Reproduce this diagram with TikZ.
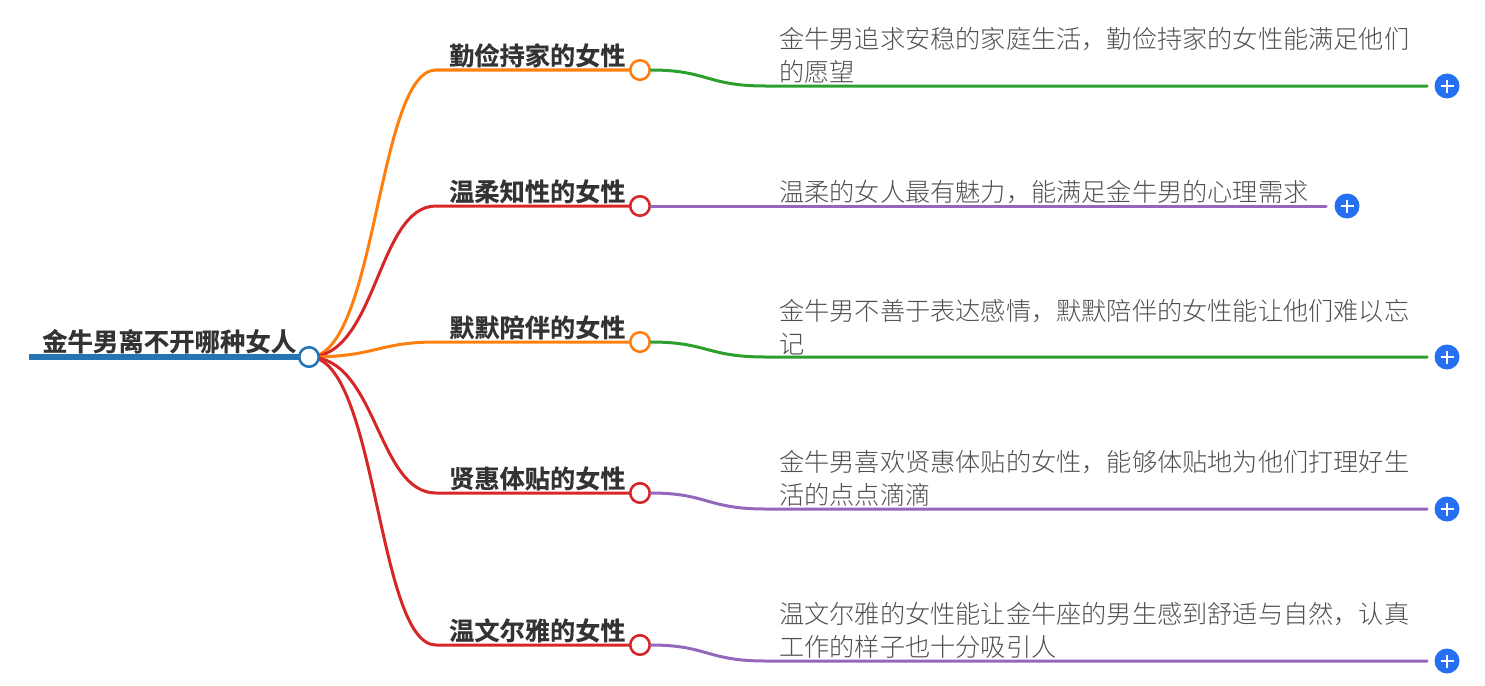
\documentclass[tikz,border=0pt]{standalone}
\usepackage{fontspec}
\setmainfont{Noto Sans CJK SC}[UprightFont=* Light,BoldFont=* Bold,BoldFeatures={FakeBold=0.4}]
\definecolor{cblue}{HTML}{2574B4}
\definecolor{corange}{HTML}{FF7F0E}
\definecolor{cred}{HTML}{D62728}
\definecolor{cgreen}{HTML}{2CA02C}
\definecolor{cpurple}{HTML}{9467BD}
\definecolor{cplus}{HTML}{2470F0}
\definecolor{ctext}{HTML}{333333}
\definecolor{cdetail}{HTML}{505050}
\tikzset{
 x=1pt,y=-1pt,
 rootlabel/.style={anchor=base west,inner sep=0pt,font=\fontsize{25.4}{25}\selectfont\bfseries,text=ctext},
 branchlabel/.style={anchor=base west,inner sep=0pt,font=\fontsize{25.2}{25}\selectfont\bfseries,text=ctext},
 detail/.style={anchor=south west,inner sep=0pt,font=\fontsize{25.2}{33}\selectfont,text=cdetail,align=left},
 knob/.style={circle,draw=#1,fill=white,line width=2.6pt,minimum size=19.5pt,inner sep=0pt},
 link/.style={draw=#1,line width=3pt,line cap=round},
 plusbtn/.style={circle,fill=cplus,minimum size=25pt,inner sep=0pt,
   path picture={\draw[white,line width=2.2pt] ([xshift=-6.5pt]path picture bounding box.center)--([xshift=6.5pt]path picture bounding box.center);
   \draw[white,line width=2.2pt] ([yshift=-6.5pt]path picture bounding box.center)--([yshift=6.5pt]path picture bounding box.center);}},
}
\newcommand{\onebranch}[9]{%
 % #1 id, #2 branch y, #3 leaf y, #4 branch colour, #5 leaf colour, #6 leaf end x, #7 plus x, #8 label, #9 detail text
 \coordinate (b#1a) at (436,#2);
 \coordinate (l#1a) at (765,#3);
 \coordinate (l#1b) at (#6,#3);
 \node[knob=#4] (k#1) at (640,#2) {};
 \draw[link=#4] (rootk.center) .. controls (377,357) and (377,#2) .. (b#1a) -- (k#1.west);
 \draw[link=#5] (k#1.east) .. controls (707,#2) and (707,#3) .. (l#1a) -- (l#1b);
 \node[plusbtn] (p#1) at (#7,#3) {};
 \node[branchlabel] (t#1) at (449,\numexpr#2-5\relax) {#8};
 \node[detail] (d#1) at (779,\numexpr#3-2\relax) {#9};
}
\begin{document}
\begin{tikzpicture}
\useasboundingbox (0,0) rectangle (1485,685);
\coordinate (rootstart) at (29,357);
\coordinate (rootk) at (309,357);
\onebranch{1}{70}{86}{corange}{cgreen}{1427}{1447}{勤俭持家的女性}{金牛男追求安稳的家庭生活，勤俭持家的女性能满足他们\\的愿望}
\onebranch{2}{206}{206}{cred}{cpurple}{1326}{1347}{温柔知性的女性}{温柔的女人最有魅力，能满足金牛男的心理需求}
\onebranch{3}{342}{357}{corange}{cgreen}{1427}{1447}{默默陪伴的女性}{金牛男不善于表达感情，默默陪伴的女性能让他们难以忘\\记}
\onebranch{4}{493}{509}{cred}{cpurple}{1427}{1447}{贤惠体贴的女性}{金牛男喜欢贤惠体贴的女性，能够体贴地为他们打理好生\\活的点点滴滴}
\onebranch{5}{645}{661}{cred}{cpurple}{1427}{1447}{温文尔雅的女性}{温文尔雅的女性能让金牛座的男生感到舒适与自然，认真\\工作的样子也十分吸引人}
\draw[cblue,line width=6pt] (rootstart) -- (rootk);
\node[knob=cblue] (rootknob) at (rootk) {};
\node[rootlabel] (root) at (42,351) {金牛男离不开哪种女人};
\end{tikzpicture}
\end{document}
